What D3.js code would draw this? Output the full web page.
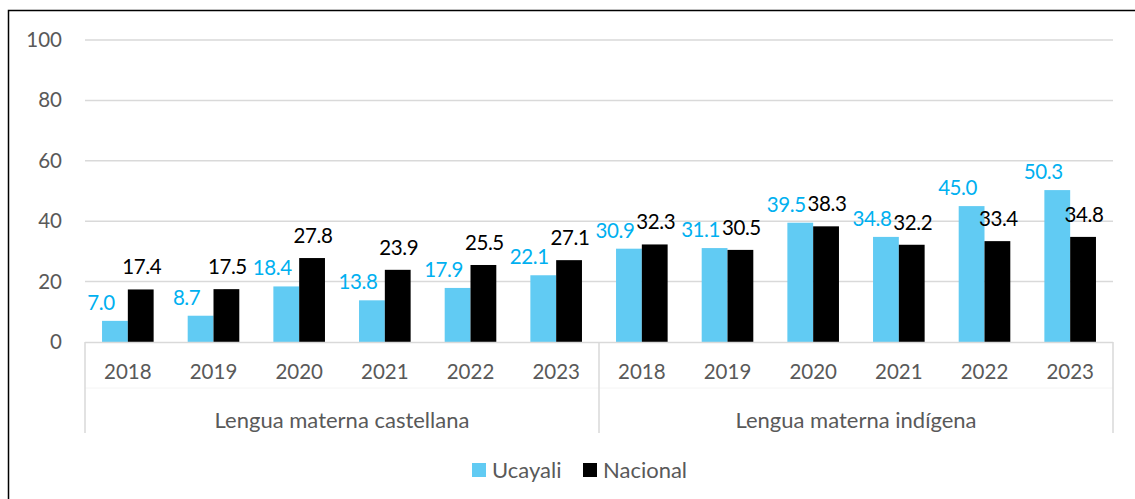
<!DOCTYPE html>
<html><head><meta charset="utf-8">
<script src="https://cdn.jsdelivr.net/npm/d3@7"></script>
<style>
body{margin:0;background:#fff;}
svg{display:block;font-family:Lato, "Open Sans", sans-serif;}
</style></head>
<body>
<svg id="chart" width="1135" height="499"></svg>
<script>
const groups = ["Lengua materna castellana", "Lengua materna indígena"];
const years = ["2018", "2019", "2020", "2021", "2022", "2023"];
const ucayali = [7.0, 8.7, 18.4, 13.8, 17.9, 22.1, 30.9, 31.1, 39.5, 34.8, 45.0, 50.3];
const nacional = [17.4, 17.5, 27.8, 23.9, 25.5, 27.1, 32.3, 30.5, 38.3, 32.2, 33.4, 34.8];
const yTicks = [0, 20, 40, 60, 80, 100];
const seriesNames = ["Ucayali", "Nacional"];
const seriesColors = ["#61CBF3", "#000000"];
const labelColors = ["#00B0F0", "#000000"];

(function(){
const svg = d3.select("#chart");
const W = 1135, H = 499;
const mLeft = 85, mRight = 1113, mTop = 40, mBottom = 342;
const numSize = 20.5, txtSize = 22;

svg.append("path").attr("d", `M8.5,${H} L8.5,10.5 L${W},10.5`).attr("fill","none").attr("stroke","#000").attr("stroke-width",1.5);

const cats = [];
groups.forEach((g,gi)=>years.forEach((yy,yi)=>cats.push({g, y: yy, i: gi*years.length+yi})));

const x = d3.scaleBand().domain(cats.map(c=>c.i)).range([mLeft,mRight]).paddingInner(0).paddingOuter(0);
const inner = d3.scaleBand().domain([0,1]).range([0, x.bandwidth()]).paddingInner(0).paddingOuter(0.66);
const y = d3.scaleLinear().domain([0,100]).range([mBottom, mTop]);

svg.append("g").selectAll("line").data(yTicks.filter(t=>t>0)).join("line")
  .attr("x1", mLeft).attr("x2", mRight)
  .attr("y1", d=>y(d)).attr("y2", d=>y(d))
  .attr("stroke","#d9d9d9").attr("stroke-width",1.5);

const yAxis = d3.axisLeft(y).tickValues(yTicks).tickSize(0).tickPadding(0).tickFormat(d3.format("d"));
const ya = svg.append("g").attr("transform", `translate(62,0)`).call(yAxis);
ya.select(".domain").remove();
ya.selectAll("text").attr("font-size", numSize).attr("fill", "#595959").attr("font-family","Lato, sans-serif");

const series = [ucayali, nacional];
series.forEach((vals, si)=>{
  svg.append("g").selectAll("rect").data(vals).join("rect")
    .attr("x", (d,i)=>x(i)+inner(si))
    .attr("width", inner.bandwidth())
    .attr("y", d=>y(d))
    .attr("height", d=>y(0)-y(d))
    .attr("fill", seriesColors[si]);
});

series.forEach((vals, si)=>{
  svg.append("g").selectAll("text").data(vals).join("text")
    .attr("x", (d,i)=>x(i)+inner(si)+inner.bandwidth()/2 + (si===0 ? -14 : 1))
    .attr("y", d=>y(d) - (si===0 ? 11 : 15))
    .attr("text-anchor","middle")
    .attr("font-size", numSize)
    .attr("letter-spacing", "-0.4px")
    .attr("fill", labelColors[si])
    .text(d=>d3.format(".1f")(d));
});

svg.append("line").attr("x1", mLeft).attr("x2", mRight).attr("y1", mBottom+0.5).attr("y2", mBottom+0.5)
  .attr("stroke","#d9d9d9").attr("stroke-width",1.5);
svg.append("line").attr("x1", mLeft).attr("x2", mRight).attr("y1", 388).attr("y2", 388)
  .attr("stroke","#f4f4f4").attr("stroke-width",1);
const gx = d3.scaleBand().domain(groups).range([mLeft,mRight]);
const seps = [mLeft, mLeft + gx.bandwidth(), mRight];
svg.append("g").selectAll("line").data(seps).join("line")
  .attr("x1", d=>d).attr("x2", d=>d).attr("y1", mBottom).attr("y2", 433)
  .attr("stroke","#d9d9d9").attr("stroke-width",1.5);

svg.append("g").selectAll("text").data(cats).join("text")
  .attr("x", c=>x(c.i)+x.bandwidth()/2)
  .attr("y", 372).attr("dy","0.35em")
  .attr("text-anchor","middle").attr("font-size",numSize).attr("fill","#595959")
  .text(c=>c.y);

svg.append("g").selectAll("text").data(groups).join("text")
  .attr("x", g=>gx(g)+gx.bandwidth()/2)
  .attr("y", 420).attr("dy","0.35em")
  .attr("text-anchor","middle").attr("font-size",txtSize).attr("fill","#595959")
  .text(g=>g);

const legX = [472, 583];
const leg = svg.append("g").selectAll("g").data(seriesNames).join("g")
  .attr("transform", (d,i)=>`translate(${legX[i]},463)`);
leg.append("rect").attr("width",14).attr("height",14).attr("fill",(d,i)=>seriesColors[i]);
leg.append("text").attr("x",20).attr("y",7).attr("dy","0.35em")
  .attr("font-size",txtSize).attr("fill","#595959").text(d=>d);
})();
</script>
</body></html>
